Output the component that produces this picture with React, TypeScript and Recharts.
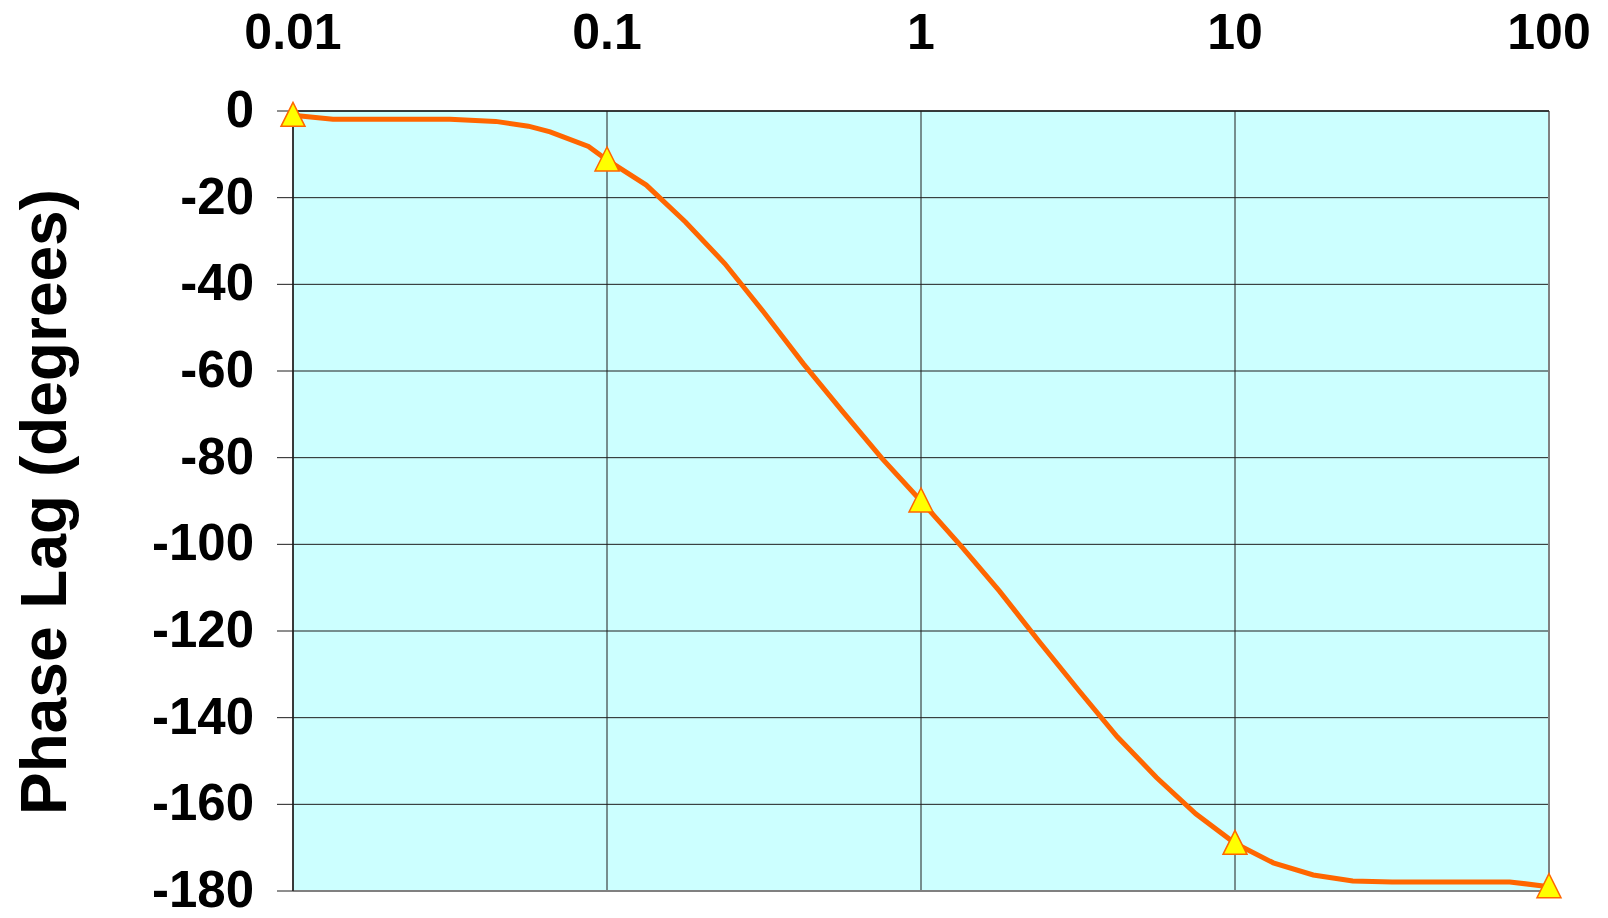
import { LineChart, Line, XAxis, YAxis, CartesianGrid, ReferenceLine } from 'recharts'

// frequency (log scale) and phase lag
const freqs = [
  0.01, 0.0134, 0.0316, 0.0442, 0.0562, 0.0659, 0.0873, 0.1, 0.1334, 0.1778, 0.2371, 0.3162, 0.4217, 0.5623,
  0.7499, 1, 1.334, 1.778, 2.371, 3.162, 4.217, 5.623, 7.499, 10, 13.24, 17.75, 23.71, 31.62, 74.99, 100
]
const phase = [
  -1, -1.9, -1.9, -2.4, -3.5, -4.8, -8.2, -11.3, -17.1, -25.6, -35.2, -46.5, -58.3, -69.3, -80.1, -90, -100.2,
  -110.8, -122.3, -133.5, -144.4, -153.8, -162.2, -169, -173.5, -176.3, -177.7, -177.9, -177.9, -179
]
const markerFreqs = [0.01, 0.1, 1, 10, 100]
const xTicks = [0.01, 0.1, 1, 10, 100]
const yTicks = [0, -20, -40, -60, -80, -100, -120, -140, -160, -180]

const data = freqs.map((f, i) => ({ f, phase: phase[i] }))

const font = '"Liberation Sans", Arial, sans-serif'

function XTick({ x, payload }: any) {
  return (
    <text x={x} y={49} textAnchor="middle" fontFamily={font} fontWeight="bold" fontSize={50} fill="#000">
      {String(payload.value)}
    </text>
  )
}

function YTick({ y, payload }: any) {
  return (
    <text x={254} y={y + 16} textAnchor="end" fontFamily={font} fontWeight="bold" fontSize={51} fill="#000">
      {String(payload.value)}
    </text>
  )
}

function Triangle(props: any) {
  const { cx, cy, payload, index } = props
  if (!markerFreqs.includes(payload.f)) return <g key={`d${index}`} />
  return (
    <polygon
      key={`d${index}`}
      points={`${cx},${cy - 13} ${cx - 12},${cy + 11} ${cx + 12},${cy + 11}`}
      fill="#ffff00"
      stroke="#ff6600"
      strokeWidth={1.5}
    />
  )
}

export default function App() {
  return (
    <div style={{ position: 'absolute', left: 0, top: 0, width: 1608, height: 918, background: '#fff' }}>
      <LineChart width={1608} height={918} data={data} margin={{ top: 0, right: 59, bottom: 27, left: 0 }}>
        <CartesianGrid stroke="#1e1e1e" fill="#ccffff" fillOpacity={1} />
        <XAxis
          dataKey="f"
          type="number"
          scale="log"
          domain={[0.01, 100]}
          ticks={xTicks}
          orientation="top"
          height={111}
          tick={<XTick />}
          tickLine={false}
          axisLine={{ stroke: '#1e1e1e', strokeWidth: 1.5 }}
        />
        <YAxis
          type="number"
          domain={[-180, 0]}
          ticks={yTicks}
          width={293}
          tick={<YTick />}
          tickSize={16}
          tickLine={{ stroke: '#1e1e1e' }}
          axisLine={{ stroke: '#1e1e1e', strokeWidth: 1.5 }}
          interval={0}
        />
        <ReferenceLine x={100} stroke="#808080" strokeWidth={2} />
        <ReferenceLine y={-180} stroke="#808080" strokeWidth={2} />
        <Line
          dataKey="phase"
          type="linear"
          stroke="#ff6600"
          strokeWidth={5}
          dot={Triangle}
          activeDot={false}
          isAnimationActive={false}
        />
      </LineChart>
      <svg width={120} height={918} style={{ position: 'absolute', left: 0, top: 0 }}>
        <text
          x={66}
          y={502}
          transform="rotate(-90, 66, 502)"
          textAnchor="middle"
          fontFamily={font}
          fontWeight="bold"
          fontSize={64}
          fill="#000"
        >
          Phase Lag (degrees)
        </text>
      </svg>
    </div>
  )
}
